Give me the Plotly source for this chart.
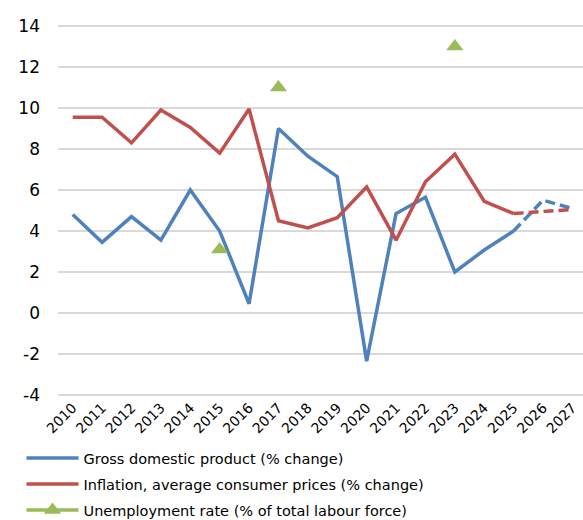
import plotly.graph_objects as go

years = [str(y) for y in range(2010, 2028)]

gdp = [4.8, 3.45, 4.7, 3.55, 6.0, 4.0, 0.45, 9.0, 7.65, 6.65, -2.35, 4.85, 5.65, 2.0, 3.07, 4.0, 5.5, 5.1]
inflation = [9.55, 9.55, 8.3, 9.9, 9.05, 7.8, 9.95, 4.5, 4.15, 4.65, 6.15, 3.55, 6.4, 7.75, 5.45, 4.85, 4.95, 5.05]
unemployment = [None, None, None, None, None, 3.1, None, 11.0, None, None, None, None, None, 13.0, None, None, None, None]

y_ticks = [-4, -2, 0, 2, 4, 6, 8, 10, 12, 14]
y_tick_labels = ["-4", "-2", "0", "2", "4", "6", "8", "10", "12", "14"]

# index from which values are projections (drawn dashed)
proj_start = 15

BLUE = "#4F81BD"
RED = "#C0504D"
GREEN = "#9BBB59"
FONT = "DejaVu Sans"

PLOT_TOP, PLOT_BOTTOM = 25, 396


def paper_y(px):
    return (PLOT_BOTTOM - px) / (PLOT_BOTTOM - PLOT_TOP)


fig = go.Figure()


def add_series(name, values, color, legend):
    actual = [v if i <= proj_start else None for i, v in enumerate(values)]
    proj = [v if i >= proj_start else None for i, v in enumerate(values)]
    fig.add_trace(go.Scatter(x=years, y=actual, mode="lines", name=name, legend=legend,
                             line=dict(color=color, width=3.5)))
    fig.add_trace(go.Scatter(x=years, y=proj, mode="lines", showlegend=False,
                             line=dict(color=color, width=3.5, dash="10px,5px"),
                             hoverinfo="skip"))


add_series("Gross domestic product (% change)", gdp, BLUE, "legend")
add_series("Inflation, average consumer prices (% change)", inflation, RED, "legend2")
fig.add_trace(go.Scatter(x=years, y=unemployment, mode="lines+markers",
                         name="Unemployment rate (% of total labour force)",
                         legend="legend3", connectgaps=False,
                         line=dict(color=GREEN, width=3.5),
                         marker=dict(symbol="triangle-up", size=15, color=GREEN)))

legend_style = dict(orientation="v", x=-0.0695, xanchor="left", yanchor="middle",
                    font=dict(size=14.5, family=FONT, color="#000000"),
                    itemwidth=52, bgcolor="rgba(0,0,0,0)", borderwidth=0)

fig.update_layout(
    width=583, height=520,
    margin=dict(l=58, r=0, t=PLOT_TOP, b=520 - PLOT_BOTTOM, autoexpand=False),
    paper_bgcolor="white", plot_bgcolor="white",
    font=dict(family=FONT, color="#000000"),
    showlegend=True,
    legend=dict(legend_style, y=paper_y(458)),
    legend2=dict(legend_style, y=paper_y(484)),
    legend3=dict(legend_style, y=paper_y(510)),
)
fig.update_xaxes(type="category", range=[-0.5, 17.36], showgrid=False,
                 showline=False, ticks="", tickangle=-45, automargin=False,
                 tickfont=dict(size=14, family=FONT))
fig.update_yaxes(range=[-4.05, 14.05], tickvals=y_ticks, ticktext=y_tick_labels,
                 showgrid=True, gridcolor="#D9D9D9", gridwidth=1.5,
                 zeroline=False, showline=False, ticks="", automargin=False,
                 ticklabelstandoff=17, tickfont=dict(size=17, family=FONT))

fig.write_html("out.html")
